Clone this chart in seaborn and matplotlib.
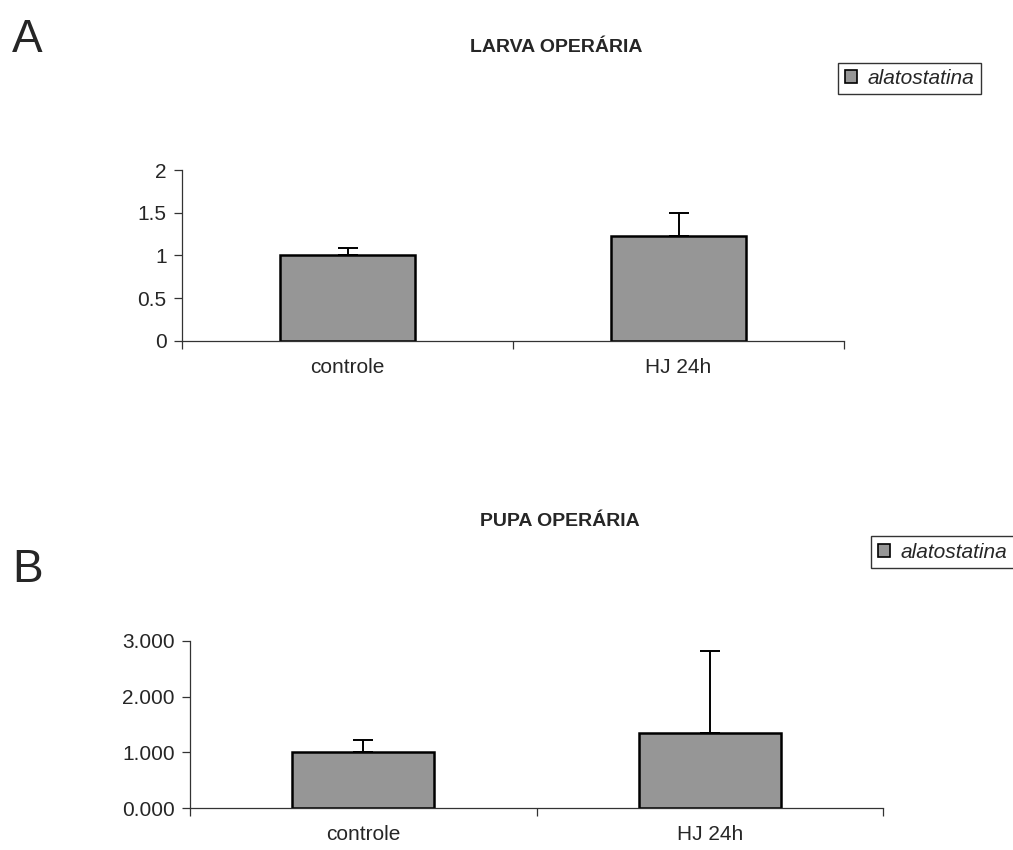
import numpy as np
import pandas as pd
import matplotlib
matplotlib.use("Agg")
import matplotlib.pyplot as plt
import seaborn as sns
from matplotlib.ticker import FixedLocator, FormatStrFormatter
from matplotlib.patches import Patch

sns.set_style("white")
plt.rcParams['font.family'] = ['Liberation Sans', 'DejaVu Sans']

categories = ["controle", "HJ 24h"]
larva_values = [1.00, 1.23]
larva_err = [0.09, 0.27]
pupa_values = [1.00, 1.35]
pupa_err = [0.22, 1.47]
series_name = "alatostatina"

bar_color = "#969696"

fig = plt.figure(figsize=(10.13, 8.5), dpi=100)

def draw_panel(rect, values, errs, title, title_xy, ylim, yticks, fmt, legend_rect, letter, letter_xy):
    ax = fig.add_axes(rect)
    df = pd.DataFrame({"cat": categories, "val": values})
    sns.barplot(data=df, x="cat", y="val", color=bar_color, saturation=1,
                edgecolor="black", linewidth=1.8, width=0.41, errorbar=None, ax=ax)
    xs = np.arange(len(categories))
    ax.errorbar(xs, values, yerr=[np.zeros(len(errs)), errs], fmt="none",
                ecolor="black", elinewidth=1.4, capsize=7, capthick=1.4, zorder=3)
    ax.set_xlim(-0.5, len(categories) - 0.5)
    ax.set_ylim(*ylim)
    ax.yaxis.set_major_locator(FixedLocator(yticks))
    ax.yaxis.set_major_formatter(FormatStrFormatter(fmt))
    ax.set_xlabel("")
    ax.set_ylabel("")
    for s in ["top", "right"]:
        ax.spines[s].set_visible(False)
    for s in ["left", "bottom"]:
        ax.spines[s].set_color("#333333")
        ax.spines[s].set_linewidth(0.9)
    ax.tick_params(axis="y", direction="out", length=6, width=0.9, color="#333333",
                   labelsize=15, pad=5, left=True)
    ax.tick_params(axis="x", which="major", length=0, labelsize=15, pad=12)
    ax.set_xticks(np.arange(-0.5, len(categories)), minor=True)
    ax.tick_params(axis="x", which="minor", direction="out", length=6, width=0.9,
                   color="#333333", bottom=True)
    fig.text(title_xy[0], title_xy[1], title, ha="center", va="center",
             fontsize=14, fontweight="bold")
    fig.text(letter_xy[0], letter_xy[1], letter, ha="left", va="center", fontsize=33)
    lax = fig.add_axes(legend_rect)
    lax.axis("off")
    leg = lax.legend(handles=[Patch(facecolor=bar_color, edgecolor="black", linewidth=1.2,
                                    label=series_name)],
                     loc="center", frameon=True, fancybox=False, handlelength=0.6,
                     handleheight=0.6, handletextpad=0.5, borderpad=0.3,
                     prop={"style": "italic", "size": 15})
    leg.get_frame().set_edgecolor("black")
    leg.get_frame().set_linewidth(1.0)
    return ax

draw_panel([182/1013, 1-341/850, (844-182)/1013, (341-170)/850],
           larva_values, larva_err, "LARVA OPERÁRIA", (556/1013, 1-48/850),
           (0, 2), [0, 0.5, 1, 1.5, 2], "%g",
           [833/1013, 1-95/850, (986-833)/1013, 33/850], "A", (12/1013, 1-40/850))

draw_panel([190/1013, 1-808/850, (883-190)/1013, (808-641)/850],
           pupa_values, pupa_err, "PUPA OPERÁRIA", (560/1013, 1-522/850),
           (0, 3), [0, 1, 2, 3], "%.3f",
           [866/1013, 1-569/850, (1019-866)/1013, 34/850], "B", (12/1013, 1-570/850))

fig.savefig("out.png", dpi=100)
